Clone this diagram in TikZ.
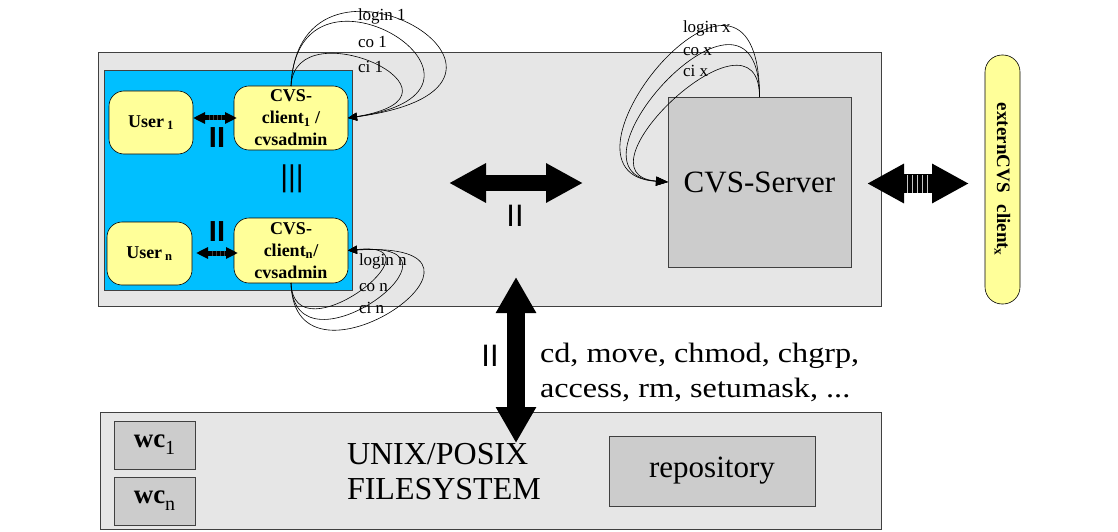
\documentclass[tikz,border=0pt]{standalone}
\usepackage{fontspec}
\setmainfont{Liberation Serif}
\newfontfamily\barfont{Liberation Sans}
\newfontfamily\widefont[FakeStretch=1.15]{Liberation Serif}
\usetikzlibrary{arrows.meta,calc}

\definecolor{panelgray}{HTML}{E6E6E6}
\definecolor{boxgray}{HTML}{CCCCCC}
\definecolor{userblue}{HTML}{00BFFF}
\definecolor{noteyellow}{HTML}{FFFF99}
\definecolor{edgegray}{HTML}{404040}

\newcommand{\fsz}[2]{\fontsize{#1}{#2}\selectfont}
\newcommand{\wclabel}[1]{{\bfseries wc}\raisebox{-7pt}{\fsz{20}{20}#1}}

\begin{document}
\begin{tikzpicture}[x=1pt, y=-1pt,
  every node/.style={inner sep=0pt, outer sep=0pt},
  panel/.style={draw=edgegray, fill=panelgray, line width=0.8pt, anchor=north west},
  greybox/.style={draw=edgegray, fill=boxgray, line width=0.8pt, anchor=north west},
  bluepanel/.style={draw=edgegray, fill=userblue, line width=0.8pt, anchor=north west},
  yellowbox/.style={draw=black, fill=noteyellow, line width=0.6pt, rounded corners=15pt,
    anchor=north west, align=center, font=\bfseries\fsz{18}{22}},
  msg/.style={anchor=base west, font=\fsz{17}{19}},
  callloop/.style={draw=black, line width=0.6pt, -{Triangle[length=9pt,width=8pt]}},
  serverloop/.style={draw=black, line width=0.6pt, -{Triangle[length=12pt,width=9pt]}},
  bars/.style={font=\barfont\fsz{31}{31}},
  boldbars/.style={font=\barfont\bfseries\fsz{29}{29}},
  smallarrow/.style={draw=black, line width=5pt,
    {Triangle[length=12pt,width=11pt]}-{Triangle[length=12pt,width=11pt]}},
  bigarrow/.style={draw=black, line width=#1,
    {Triangle[length=37pt,width=37pt]}-{Triangle[length=37pt,width=37pt]}},
  stripe/.style={draw=black!75, line width=0.5pt}
]
\useasboundingbox (0,0) rectangle (1118,532);

% system panel with the user area and the server
\node[panel, minimum width=783pt, minimum height=254pt] (sys) at (98,52) {};
\node[bluepanel, minimum width=248pt, minimum height=220pt] (users) at (104,70) {};

\node[yellowbox, minimum width=84pt, minimum height=63pt] (user1) at (109,91) {User\,\textsubscript{1}};
\node[yellowbox, minimum width=114pt, minimum height=64pt] (client1) at (234,86)
  {CVS-\\client\textsubscript{1} /\\cvsadmin};
\node[yellowbox, minimum width=85pt, minimum height=63pt] (usern) at (107,222) {User\,\textsubscript{n}};
\node[yellowbox, minimum width=114pt, minimum height=65pt] (clientn) at (234,218)
  {CVS-\\client\textsubscript{n}/\\cvsadmin};

\node[boldbars] (par1) at (217,137.5) {II};
\node[boldbars] (parn) at (217,231.5) {II};
\node[bars, font=\barfont\fsz{30}{30}] (dots) at (292,179) {|||};

\node[greybox, minimum width=183pt, minimum height=170pt, font=\fsz{31}{31}] (server) at (668,97) {CVS-Server};

\node[yellowbox, anchor=center, rotate=-90, rounded corners=17pt,
  minimum width=249pt, minimum height=35pt, font=\bfseries\fsz{19}{22}] (ext) at (1002.5,179.5)
  {externCVS\hspace{12pt}client\textsubscript{x}};

% file system panel
\node[panel, minimum width=781pt, minimum height=117pt] (fs) at (100,412) {};
\node[greybox, minimum width=81pt, minimum height=48pt, font=\fsz{27}{27}] (wc1) at (114,421) {\wclabel{1}};
\node[greybox, minimum width=81pt, minimum height=48pt, font=\fsz{27}{27}] (wcn) at (114,477) {\wclabel{n}};
\node[anchor=west, align=left, font=\fsz{32}{35}] (fsname) at (347,472) {UNIX/POSIX\\FILESYSTEM};
\node[greybox, minimum width=206pt, minimum height=70pt, font=\fsz{31}{31}] (repo) at (609,436) {repository};

% block arrows
\draw[smallarrow] (user1.east |- client1.west) -- ([xshift=3pt]client1.west);
\foreach \sx in {209,213,217,221}
  \draw[stripe] (\sx,115.5) -- (\sx,120.5);
\draw[smallarrow] ($(usern.east |- clientn.west)+(4,2.5)$) -- ($(clientn.west)+(4,2.5)$);
\foreach \sx in {212,216,220,224}
  \draw[stripe] (\sx,250.5) -- (\sx,255.5);

\coordinate (hl) at (449,183);
\coordinate (hr) at (583,183);
\draw[bigarrow=16pt] (hl) -- (hr);
\node[bars] (parh) at (515,216) {II};

\coordinate (vt) at (516,277);
\coordinate (vb) at (516,443);
\draw[draw=black, line width=18pt,
  {Triangle[length=36pt,width=38pt]}-{Triangle[length=36pt,width=38pt]}] (vt) -- (vb);
\node[bars] (parv) at (490,356) {II};

\coordinate (el) at (867,183.5);
\coordinate (er) at (969,183.5);
\draw[bigarrow=19pt] (el) -- (er);
\foreach \sx in {907,912,917,922,927}
  \draw[stripe, draw=gray!45, line width=0.7pt] (\sx,174.5) -- (\sx,192.5);

% file operations
\node[anchor=west, align=left, font=\widefont\fsz{28}{35}] (ops) at (540,372)
  {cd, move, chmod, chgrp,\\access, rm, setumask, ...};

% command loops
\draw[callloop] (client1.north) .. controls +(8,-170) and +(240,-33) .. (client1.east);
\draw[callloop] (client1.north) .. controls +(6,-150) and +(190,-28) .. (client1.east);
\draw[callloop] (client1.north) .. controls +(4,-80) and +(140,-23) .. (client1.east);
\node[msg] (l1) at (358,21) {login 1};
\node[msg] (c1) at (358,48) {co 1};
\node[msg] (i1) at (358,73) {ci 1};

\draw[callloop] (clientn.south) .. controls +(3,127) and +(191,-11) .. (clientn.east);
\draw[callloop] (clientn.south) .. controls +(3,102) and +(141,-11) .. (clientn.east);
\draw[callloop] (clientn.south) .. controls +(3,77) and +(101,-11) .. (clientn.east);
\node[msg] (ln) at (359,265) {login n};
\node[msg] (cn) at (359,291) {co n};
\node[msg] (in) at (359,313) {ci n};

\draw[serverloop] (server.north) .. controls +(0,-198) and +(-134,-8) .. (server.west);
\draw[serverloop] (server.north) .. controls +(0,-153) and +(-118,-8) .. (server.west);
\draw[serverloop] (server.north) .. controls +(0,-103) and +(-99,-8) .. (server.west);
\node[msg] (lx) at (683,33) {login x};
\node[msg] (cx) at (683,56) {co x};
\node[msg] (ix) at (683,77) {ci x};
\end{tikzpicture}
\end{document}
